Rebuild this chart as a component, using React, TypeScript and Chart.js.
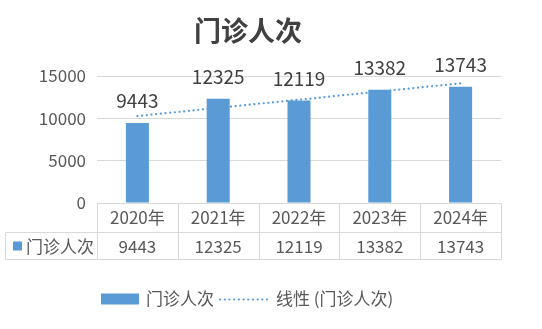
import React, { useEffect, useRef } from "react";
import { Chart, registerables } from "chart.js";

Chart.register(...registerables);

const titleText = "门诊人次";
const categories = ["2020年", "2021年", "2022年", "2023年", "2024年"];
const values = [9443, 12325, 12119, 13382, 13743];
const seriesName = "门诊人次";
const trendName = "线性 (门诊人次)";
const yMin = 0;
const yMax = 15000;
const yStep = 5000;

const BAR_COLOR = "#5b9bd5";
const GRID = "#d9d9d9";
const CJK = "'Noto Sans CJK SC', 'Noto Sans', sans-serif";

function linearTrend(ys: number[]): number[] {
  const n = ys.length;
  const xs = ys.map((_, i) => i + 1);
  const mx = xs.reduce((a, b) => a + b, 0) / n;
  const my = ys.reduce((a, b) => a + b, 0) / n;
  let num = 0;
  let den = 0;
  for (let i = 0; i < n; i++) {
    num += (xs[i] - mx) * (ys[i] - my);
    den += (xs[i] - mx) * (xs[i] - mx);
  }
  const slope = num / den;
  const b = my - slope * mx;
  return xs.map((x) => b + slope * x);
}

const overlayPlugin = {
  id: "overlay",
  afterDatasetsDraw(chart: any) {
    const ctx = chart.ctx;
    const meta = chart.getDatasetMeta(1);
    ctx.save();
    ctx.fillStyle = "#404040";
    ctx.font = `19px ${CJK}`;
    ctx.textAlign = "center";
    ctx.textBaseline = "middle";
    meta.data.forEach((el: any, i: number) => {
      ctx.fillText(String(values[i]), el.x, el.y - 22);
    });
    ctx.restore();
  },
  afterDraw(chart: any) {
    const ctx = chart.ctx;
    const area = chart.chartArea;
    const xs = chart.scales.x;
    const ys = chart.scales.y;
    ctx.save();

    // Title
    ctx.fillStyle = "#404040";
    ctx.font = `bold 27px ${CJK}`;
    ctx.textAlign = "center";
    ctx.textBaseline = "middle";
    ctx.fillText(titleText, 248, 31);

    // Data table
    const left = Math.round(area.left) + 0.5;
    const right = Math.round(area.right) + 0.5;
    const top = Math.round(ys.getPixelForValue(0)) + 0.5;
    const r1 = top + 29;
    const r2 = r1 + 27;
    const tableLeft = 5.5;
    const n = categories.length;
    const cw = (area.right - area.left) / n;
    ctx.strokeStyle = GRID;
    ctx.lineWidth = 1;
    ctx.beginPath();
    ctx.moveTo(left, top);
    ctx.lineTo(right, top);
    ctx.moveTo(tableLeft, r1);
    ctx.lineTo(right, r1);
    ctx.moveTo(tableLeft, r2);
    ctx.lineTo(right, r2);
    for (let i = 0; i <= n; i++) {
      const x = Math.round(area.left + i * cw) + 0.5;
      ctx.moveTo(x, top);
      ctx.lineTo(x, r2);
    }
    ctx.moveTo(tableLeft, r1);
    ctx.lineTo(tableLeft, r2);
    ctx.stroke();

    ctx.fillStyle = "#595959";
    ctx.font = `17px ${CJK}`;
    ctx.textAlign = "center";
    ctx.textBaseline = "middle";
    categories.forEach((c, i) => {
      const cx = xs.getPixelForValue(i);
      ctx.fillText(c, cx, (top + r1) / 2);
      ctx.fillText(String(values[i]), cx, (r1 + r2) / 2 + 0.5);
    });
    ctx.fillStyle = BAR_COLOR;
    ctx.fillRect(13, (r1 + r2) / 2 - 4.5, 9, 9);
    ctx.fillStyle = "#595959";
    ctx.textAlign = "left";
    ctx.fillText(seriesName, 26, (r1 + r2) / 2 + 0.5);

    // Legend
    const ly = 299;
    ctx.fillStyle = BAR_COLOR;
    ctx.fillRect(101, ly - 5.5, 38, 11);
    ctx.fillStyle = "#595959";
    ctx.font = `17px ${CJK}`;
    ctx.textAlign = "left";
    ctx.textBaseline = "middle";
    ctx.fillText(seriesName, 146, ly);
    ctx.strokeStyle = BAR_COLOR;
    ctx.lineWidth = 2.2;
    ctx.lineCap = "round";
    ctx.setLineDash([0.1, 4.6]);
    ctx.beginPath();
    ctx.moveTo(220, ly + 0.5);
    ctx.lineTo(267, ly + 0.5);
    ctx.stroke();
    ctx.setLineDash([]);
    ctx.fillText(trendName, 276, ly);

    ctx.restore();
  },
};

export default function App() {
  const ref = useRef<HTMLCanvasElement | null>(null);
  useEffect(() => {
    document.body.style.margin = "0";
    const canvas = ref.current;
    if (!canvas) return;
    const trend = linearTrend(values);
    const chart = new Chart(canvas, {
      type: "bar",
      data: {
        labels: categories,
        datasets: [
          {
            type: "line",
            label: trendName,
            data: trend,
            borderColor: BAR_COLOR,
            borderWidth: 2.2,
            borderDash: [0.1, 4.6],
            borderCapStyle: "round",
            pointRadius: 0,
            fill: false,
            tension: 0,
            order: 0,
          } as any,
          {
            type: "bar",
            label: seriesName,
            data: values,
            backgroundColor: BAR_COLOR,
            barPercentage: 1,
            categoryPercentage: 0.285,
            order: 1,
          } as any,
        ],
      },
      options: {
        responsive: false,
        animation: false,
        layout: { padding: { left: 0, right: 41, top: 76, bottom: 126 } },
        plugins: {
          legend: { display: false },
          title: { display: false },
          tooltip: { enabled: false },
        },
        scales: {
          x: {
            display: false,
            offset: true,
          },
          y: {
            min: yMin,
            max: yMax,
            border: { display: false },
            grid: { color: GRID, lineWidth: 1, drawTicks: false },
            ticks: {
              stepSize: yStep,
              padding: 11,
              color: "#595959",
              font: { family: CJK, size: 17 },
              callback: (v: any) => String(v),
            },
            afterFit(scale: any) {
              scale.width = 97;
            },
          },
        },
      },
      plugins: [overlayPlugin],
    });
    return () => chart.destroy();
  }, []);
  return (
    <div style={{ width: 542, height: 329 }}>
      <canvas ref={ref} width={542} height={329} style={{ display: "block" }} />
    </div>
  );
}
